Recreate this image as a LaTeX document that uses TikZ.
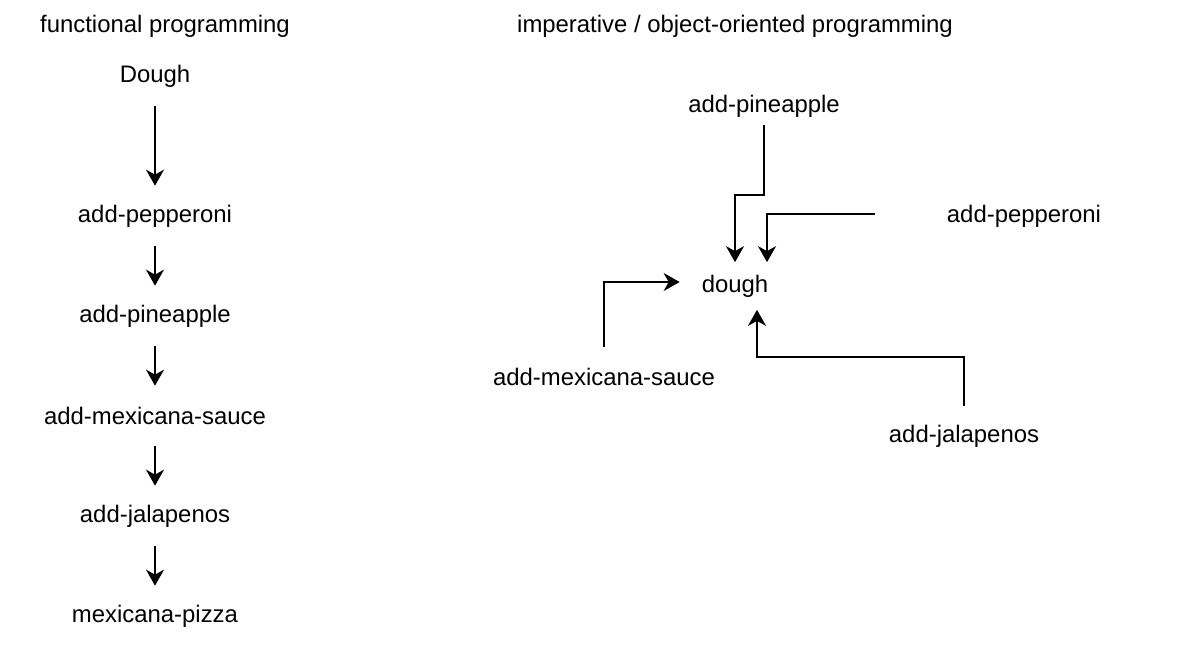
\documentclass[tikz,border=0pt]{standalone}
\usepackage{fontspec}
\setmainfont{Liberation Sans}
\usetikzlibrary{arrows.meta,calc}
\begin{document}
\begin{tikzpicture}[x=0.02cm,y=-0.02cm,
  lbl/.style={inner sep=0pt,font=\fontsize{13.6pt}{16pt}\selectfont},
  box/.style={lbl,minimum height=1.2cm},
  arr/.style={line width=1.3pt,-{Stealth[length=0.32cm,width=0.36cm,inset=0.1cm]}}]
\useasboundingbox (0,0) rectangle (1180,650);
% titles
\node[lbl] (t1) at (165,26) {functional programming};
\node[lbl] (t2) at (735,26) {imperative / object-oriented programming};
% left column
\node[box] (d)  at (155,76)  {Dough};
\node[box] (p1) at (155,216) {add-pepperoni};
\node[box] (p2) at (155,316) {add-pineapple};
\node[box] (p3) at (155,416) {add-mexicana-sauce};
\node[box] (p4) at (155,516) {add-jalapenos};
\node[box] (p5) at (155,616) {mexicana-pizza};
\draw[arr] (d.south) -- (p1.north);
\draw[arr] (p1.south) -- (p2.north);
\draw[arr] (p2.south) -- (p3.north);
\draw[arr] (p3.south) -- (p4.north);
\draw[arr] (p4.south) -- (p5.north);
% right side
\node[lbl,minimum width=2.2cm,minimum height=0.94cm] (dough) at (735,286) {dough};
\node[lbl,minimum height=0.76cm] (pa) at (764,106) {add-pineapple};
\node[lbl,minimum width=5.96cm] (pe) at (1024,216) {add-pepperoni};
\node[box] (ms) at (604,377) {add-mexicana-sauce};
\node[box] (ja) at (964,436) {add-jalapenos};
\draw[arr] (pa.south) -- ++(0,70) -| (dough.north);
\draw[arr] ($(pe.west)+(0,-2)$) -| ($(dough.north)+(32,0)$);
\draw[arr] (ms.north) |- ($(dough.west)+(0,-4)$);
\draw[arr] (ja.north) -- ++(0,-49) -| ($(dough.south)+(22,0)$);
\end{tikzpicture}
\end{document}
